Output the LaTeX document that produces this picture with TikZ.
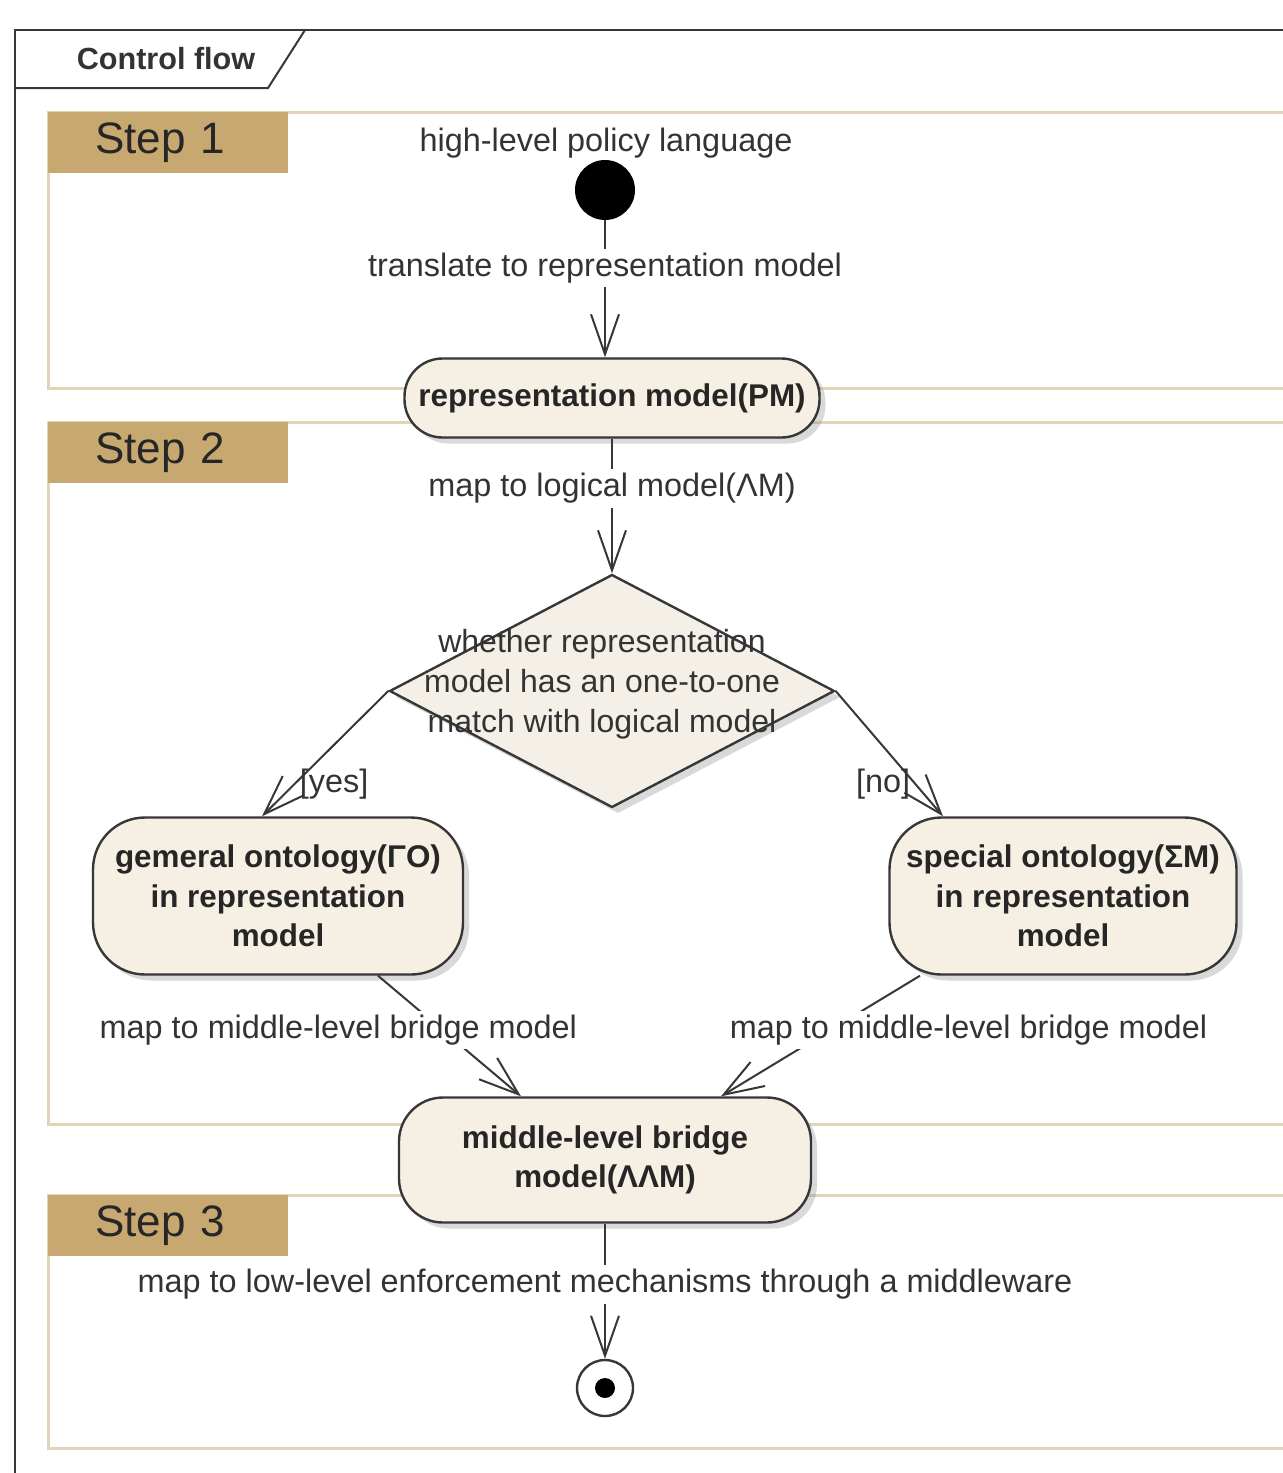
\documentclass[tikz,border=0pt]{standalone}
\usepackage{fontspec}
\setmainfont{Liberation Sans}
\usetikzlibrary{arrows.meta,shapes.geometric,shadows}

\definecolor{steptan}{RGB}{198,168,112}
\definecolor{lanetan}{RGB}{226,212,184}
\definecolor{nodecream}{RGB}{246,240,228}
\definecolor{deccream}{RGB}{244,239,231}
\definecolor{linegray}{RGB}{55,55,55}

\tikzset{
  lane/.style={draw=lanetan, line width=1.5pt},
  steplabel/.style={anchor=north west, fill=steptan, minimum height=30.5pt,
    text width=73pt, inner xsep=23.5pt, inner ysep=0pt, align=left,
    font=\fontsize{22}{22}\selectfont, text=black!85},
  activity/.style={draw=linegray, line width=1.2pt, fill=nodecream,
    rounded corners=26pt, align=center, inner sep=0pt,
    font=\fontsize{15.7}{19.75}\selectfont\bfseries, text=black!85,
    drop shadow={shadow xshift=3pt, shadow yshift=-3pt, opacity=0.3, fill=gray}},
  decision/.style={diamond, draw=linegray, line width=1.2pt, fill=deccream,
    minimum width=222.5pt, minimum height=116.5pt, inner sep=0pt,
    drop shadow={shadow xshift=3pt, shadow yshift=-3pt, opacity=0.3, fill=gray}},
  dectext/.style={align=center, font=\fontsize{16}{20}\selectfont, text=black!80},
  startdot/.style={circle, fill=black, minimum size=30pt, inner sep=0pt},
  enddot/.style={circle, draw=linegray, line width=1.2pt, fill=white,
    minimum size=28pt, inner sep=0pt,
    path picture={\fill[black] (path picture bounding box.center) circle (5pt);}},
  flow/.style={draw=linegray, line width=1pt,
    -{Straight Barb[length=20pt,width=14pt]}},
  flowlabel/.style={fill=white, inner sep=2pt,
    font=\fontsize{16.2}{18}\selectfont, text=black!80},
}

\begin{document}
\begin{tikzpicture}[x=0.5pt, y=-0.5pt]
    \useasboundingbox (0,0) rectangle (1282,1473);

    % Rahmen mit Reiter
    \draw[linegray, line width=1pt] (15,1480) -- (15,30) -- (1290,30);
    \draw[linegray, line width=1pt] (15,88) -- (268,88) -- (305,30);
    \node[font=\fontsize{15.3}{18}\selectfont\bfseries, text=black!80] (title) at (166,59) {Control flow};

    % Partitionen
    \draw[lane] (1290,112) -- (48,112) -- (48,388) -- (1290,388);
    \draw[lane] (1290,422) -- (48,422) -- (48,1124) -- (1290,1124);
    \draw[lane] (1290,1195) -- (48,1195) -- (48,1448) -- (1290,1448);
    \node[steplabel] (step1) at (48,112) {Step 1};
    \node[steplabel] (step2) at (48,422) {Step 2};
    \node[steplabel] (step3) at (48,1195) {Step 3};

    % Aktivitaeten
    \node[startdot] (start) at (605,190) {};
    \node[flowlabel, fill=none] (lang) at (606,143) {high-level policy language};
    \node[activity, rounded corners=19pt, minimum width=207.5pt, minimum height=39.5pt] (pm) at (612,398) {representation model(PM)};
    \node[decision] (dec) at (612,691) {};
    \node[dectext] (dectxt) at (602,684) {whether representation\\model has an one-to-one\\match with logical model};
    \node[activity, minimum width=185pt, minimum height=78.5pt] (go) at (278,896) {gemeral ontology(ΓO)\\in representation\\model};
    \node[activity, minimum width=173.5pt, minimum height=78.5pt] (sm) at (1063,896) {special ontology(ΣM)\\in representation\\model};
    \node[activity, rounded corners=22pt, minimum width=206pt, minimum height=62.5pt] (mm) at (605,1160) {middle-level bridge\\model(ΛΛM)};
    \node[enddot] (end) at (605,1388) {};

    % Kontrollfluss
    \draw[flow] (start) -- node[flowlabel, pos=0.35] {translate to representation model} (pm.north -| start);
    \draw[flow] (pm.south) -- node[flowlabel, pos=0.37] {map to logical model(ΛM)} (dec.north);
    \draw[flow] (dec.west) -- node[flowlabel, fill=none, pos=0.74, anchor=west] {[yes]} ([xshift=-8pt]go.north);
    \draw[flow] (dec.east) -- node[flowlabel, fill=none, pos=0.74, anchor=east] {[no]} ([xshift=-60pt]sm.north);
    \draw[flow] ([xshift=50pt]go.south) -- node[flowlabel, pos=0.45, xshift=-52pt] {map to middle-level bridge model} ([xshift=-42pt]mm.north);
    \draw[flow] ([xshift=-71.5pt]sm.south) -- node[flowlabel, pos=0.45, xshift=69pt] {map to middle-level bridge model} ([xshift=58pt]mm.north);
    \draw[flow] (mm.south) -- node[flowlabel, pos=0.45] {map to low-level enforcement mechanisms through a middleware} (end);

\end{tikzpicture}
\end{document}
